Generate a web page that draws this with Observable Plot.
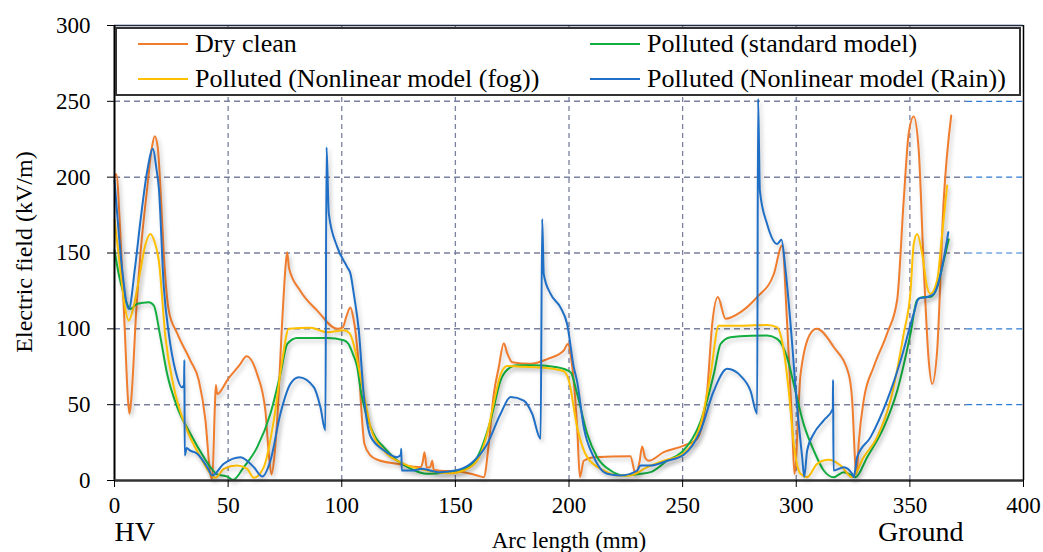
<!DOCTYPE html>
<html><head><meta charset="utf-8">
<script src="https://cdn.jsdelivr.net/npm/d3@7"></script>
<script src="https://cdn.jsdelivr.net/npm/@observablehq/plot@0.6"></script>
<style>
body{margin:0;background:#fff;}
#wrap{position:relative;width:1043px;height:552px;font-family:"Liberation Serif","Times New Roman",serif;overflow:hidden;}
#legend{position:absolute;left:115px;top:27px;width:902px;height:65px;border:2px solid #333;background:#fff;}
.item{position:absolute;display:flex;align-items:center;font-size:26px;white-space:nowrap;height:30px;color:#000;}
.swatch{width:50px;height:0;border-top:2px solid;margin-right:7px;}
#ylab{position:absolute;left:24px;top:252px;transform:translate(-50%,-50%) rotate(-90deg);font-size:24px;white-space:nowrap;color:#000;}
svg g[aria-label="line"] path{filter:drop-shadow(2px 3px 2px rgba(0,0,0,0.22));}
</style></head><body><div id="wrap"></div>
<script>
const seriesNames = ["Dry clean", "Polluted (standard model)", "Polluted (Nonlinear model (fog))", "Polluted (Nonlinear model (Rain))"];
const seriesColors = ["#F07C2E", "#12AE3F", "#FFC000", "#1F6FC6"];
const xTicks = [0, 50, 100, 150, 200, 250, 300, 350, 400];
const yTicks = [0, 50, 100, 150, 200, 250, 300];
const xLabel = "Arc length (mm)";
const yLabel = "Electric field (kV/m)";
const endLabels = ["HV", "Ground"];
const endLabelX = [0, 336];

const dryClean = [[0,200],[0.8,202],[2.5,165],[4.5,100],[6,52],[6.6,44],[7.5,56],[9.5,110],[11.4,149],[14.4,193],[16.5,220],[17.7,227],[19,220],[20.5,185],[21.7,149],[23.9,112],[27.6,97],[33.4,79],[37.1,66],[40,40],[42.2,4],[43,1],[44.2,50],[44.6,63],[45.2,57],[50,67],[55,76],[58.1,82],[62.8,70],[66.4,46],[67.9,17.6],[69.1,4],[70.3,15],[71.6,40],[73.8,105],[75.5,145],[76,150.5],[76.8,140],[81.8,125],[89.2,112],[98,100],[100.5,101],[102,108],[103.8,114],[105,108],[106.3,95],[107.5,75],[108.7,45],[110,24],[112.6,16.5],[116,13.5],[124.4,11],[134.7,8.8],[135.6,12],[136.4,18.7],[137.4,8.5],[139,9],[139.8,13],[140.5,7],[153.7,5.5],[159.6,3.3],[162.5,2.2],[164.7,24],[166.9,57],[169.1,74.7],[171.3,90.5],[172.8,84],[175,78],[183,77],[190.4,80],[197.7,85.7],[199.5,90],[201,80],[203.6,35],[204.8,2.2],[206.5,13],[210.9,15.4],[227,16],[229.3,4.4],[231,12],[232.2,22.4],[233.5,15],[235.1,13],[241.7,18.7],[250.5,23],[256.4,27.5],[260.8,59],[263,103],[265.5,121],[268.9,106.6],[275.5,111],[282.8,121],[290.1,136],[293.8,155],[296,103],[298.2,37],[299.2,4.4],[301.9,70],[306.3,97],[309,100],[316.5,88],[323.1,70],[324.6,53],[326.1,8.8],[326.6,4.4],[327.5,25],[329.7,53],[334.1,75],[340,97],[344.4,119],[347.3,185],[349.5,229],[351.7,240],[353.9,217.6],[356.1,140.6],[358.3,79],[359.8,63.7],[362,85.7],[364.9,185],[368.2,240.7]];

const standardModel = [[0,152],[2,135],[4.1,123],[7,113],[10,116.5],[15.1,117.6],[17.3,115.4],[20.2,94.5],[23.2,70],[27.6,48.4],[33.4,30.8],[39.3,15.4],[42.2,8.8],[45.2,4],[49.6,2.6],[52.2,0.4],[56.9,8.8],[62.8,22],[68.6,44],[73,70],[76,90],[80.4,94],[93.6,94],[100.9,92.5],[103,90],[105,83],[106.8,75],[108.5,58],[110.5,45],[112.7,35],[115,28],[118.5,22],[124.4,13.2],[130,8],[137.6,4.4],[146.4,5.5],[153.7,7.7],[159.6,15.4],[165.5,39.6],[169.9,66],[174.3,74.7],[177.2,76],[185,76],[194.8,74.7],[200.7,71.4],[203.6,57],[208,30.8],[212.4,15.4],[218.3,6.6],[224.1,3.3],[231.5,4.4],[235.9,5.5],[243.2,13],[250.5,20],[257.9,39],[263.7,70],[266.7,90],[271,94.5],[280,95.5],[287.2,95.6],[291.6,93.4],[296,81],[298.9,63.7],[303.3,37],[307.7,19.8],[312.1,6.6],[316.5,2.2],[320.9,5.5],[324.6,3.3],[326.1,2.2],[331.2,15.4],[338.5,35],[344.4,59],[350.3,97],[353.2,119],[356.1,121],[359,121],[362,127.5],[364.9,145],[367.1,159]];

const fogModel = [[0,172],[2.5,140],[4.5,115],[6.3,105.5],[8.5,115],[11,135],[13.5,155],[15.8,162.6],[17.5,158],[19.5,145],[22.4,94.5],[26.1,61.5],[32,33],[37.8,15.4],[42.2,4.4],[44.4,1.8],[48.1,7.7],[54,9.9],[58.4,7.7],[61.3,1.8],[65.7,8.8],[70.1,39.6],[73.8,79],[76.7,100],[86.2,100.7],[93.6,97.8],[100.9,99],[103.5,97],[105.2,90],[107,78],[109.7,57],[112.7,35],[118.5,19.8],[127.3,11],[137.6,6.6],[147.9,4.8],[153.7,6.6],[159.6,13.2],[164,30.8],[167.7,57],[169.9,70],[172.8,75.5],[180,75],[187.5,74.5],[197.7,72],[199.9,66],[203.6,35],[208,15.4],[215.3,6.6],[221.2,3.3],[227,3.3],[234.4,8.8],[241.7,13],[250.5,18],[257.9,37],[262.3,70],[265.9,102],[275.5,102],[287.2,102.6],[291.6,101],[294.5,85.7],[296.7,59],[298.9,24],[301.9,4.4],[304.8,2.2],[309.2,11],[314.3,13.6],[319.5,9.9],[324.6,2.2],[329.7,15.4],[335.6,28.6],[341.5,53],[347.3,97],[350.3,125],[351.7,156],[353.2,162.6],[355.4,149.5],[357.6,127.5],[359,123],[362,132],[364.2,162.6],[366.4,194.5]];

const rainModel = [[0,198],[1.5,170],[3.4,138.5],[6.3,113],[9,140],[11.4,171],[14.5,205],[16.9,218.7],[18.5,205],[19.5,193],[21.7,127.5],[23.9,96.7],[26.8,72.5],[29.6,61.5],[30.6,63],[30.75,79.5],[30.9,16.5],[31.8,21.5],[33,20],[36.4,17.6],[40.8,8.8],[43,3.3],[48.1,11],[55.4,15.4],[61.3,8.8],[65,2.6],[68.6,13],[73,44],[77.4,63.7],[81.1,68],[87.7,61.5],[90.6,48.4],[92.8,33],[93.3,219.8],[94.3,176],[98,154],[102.4,140.7],[103.9,136],[105.3,123],[107.5,99],[109.7,56],[112.7,29],[118.5,20],[124.4,15.4],[126,17],[126.2,21],[126.4,6.6],[130.9,6.6],[135.3,7.7],[142.6,5.5],[150,6.6],[156.7,11],[164,24],[169.9,44],[174.3,55],[180.1,52.7],[183.8,44],[187.5,27.5],[188.2,172.5],[188.9,136],[191.9,123],[196.3,114],[199.2,103],[202.1,74.7],[203.6,65],[206.5,35],[210.9,15.4],[216.8,4.4],[222.6,3.3],[230,6.6],[231.5,9.9],[235.9,9.9],[243.2,13],[250.5,17],[257.9,33],[263.7,59],[269.6,73.6],[275.5,69],[279.9,59],[282.8,44],[283.2,251.7],[284,191],[287.2,169],[291.6,156],[293.5,158.7],[295.3,138.5],[297.5,103],[300.4,48],[302.6,15.4],[303.5,2.5],[304.8,19.8],[307.7,30.8],[312.1,39.6],[316.1,47.3],[316.2,66.4],[316.4,6.6],[320.9,8.8],[324.6,4.4],[325.3,2.2],[326.8,15.4],[332.7,28.6],[340,53],[345.9,79],[351.7,110],[353.9,120],[357.6,121],[360.5,123],[363.5,136],[366.9,163.7]];

const seriesValues = [dryClean, standardModel, fogModel, rainModel];
const rows = seriesValues.flatMap((pts, i) => pts.map(([x, y]) => ({series: seriesNames[i], x, y})));

const gridBreak = 375;
const innerY = yTicks.filter(d => d > 0 && d < 300);
const innerX = xTicks.filter(d => d > 0 && d < 400);

const chart = Plot.plot({
  width: 1043, height: 552,
  marginLeft: 114, marginRight: 20, marginTop: 25, marginBottom: 72,
  x: {domain: [0, 400]},
  y: {domain: [0, 300]},
  color: {domain: seriesNames, range: seriesColors},
  style: {fontFamily: "'Liberation Serif', 'Times New Roman', serif", fontSize: "23px", color: "#000", background: "transparent", overflow: "visible"},
  marks: [
    Plot.ruleY(innerY, {x1: 0, x2: gridBreak, stroke: "#7b809e", strokeWidth: 1.5, strokeDasharray: "6,4"}),
    Plot.ruleY(innerY, {x1: gridBreak, x2: 400, stroke: "#2f7bd2", strokeWidth: 1.2, strokeDasharray: "6,4"}),
    Plot.ruleX(innerX, {y1: 0, y2: 300, stroke: "#7b809e", strokeWidth: 1.3, strokeDasharray: "5,4"}),
    Plot.ruleY([300], {stroke: "#1f2a44", strokeWidth: 1.5}),
    Plot.ruleX([400], {stroke: "#000", strokeWidth: 1.5}),
    Plot.line(rows, {x: "x", y: "y", z: "series", stroke: "series", strokeWidth: 2, curve: "monotone-x"}),
    Plot.ruleX([0], {stroke: "#000", strokeWidth: 2}),
    Plot.ruleY([0], {stroke: "#333", strokeWidth: 2.5}),
    Plot.axisX({ticks: xTicks, tickSize: 7, tickPadding: 9, tickFormat: d => d, label: null, fontSize: 23}),
    Plot.axisY({ticks: yTicks, tickSize: 7, tickPadding: 17, tickFormat: d => d, label: null, fontSize: 23}),
    Plot.text([xLabel], {frameAnchor: "bottom", dy: 67, fontSize: 23, fill: "#000"}),
    Plot.text(endLabels.map((t, i) => ({t, x: endLabelX[i]})), {x: "x", text: "t", frameAnchor: "bottom", dy: 41, lineAnchor: "top", textAnchor: "start", fontSize: 28, fill: "#000"})
  ]
});

const wrap = document.getElementById("wrap");
wrap.appendChild(chart);

const ylab = document.createElement("div");
ylab.id = "ylab";
ylab.textContent = yLabel;
wrap.appendChild(ylab);

const legend = document.createElement("div");
legend.id = "legend";
const legendPos = [[21, 0], [473, 0], [21, 35], [473, 35]];
const legendOrder = [0, 1, 2, 3];
legendOrder.forEach((si, k) => {
  const it = document.createElement("div");
  it.className = "item";
  it.style.left = legendPos[k][0] + "px";
  it.style.top = legendPos[k][1] + "px";
  const sw = document.createElement("span");
  sw.className = "swatch";
  sw.style.borderTopColor = seriesColors[si];
  const tx = document.createElement("span");
  tx.textContent = seriesNames[si];
  it.appendChild(sw); it.appendChild(tx);
  legend.appendChild(it);
});
wrap.appendChild(legend);
</script></body></html>
